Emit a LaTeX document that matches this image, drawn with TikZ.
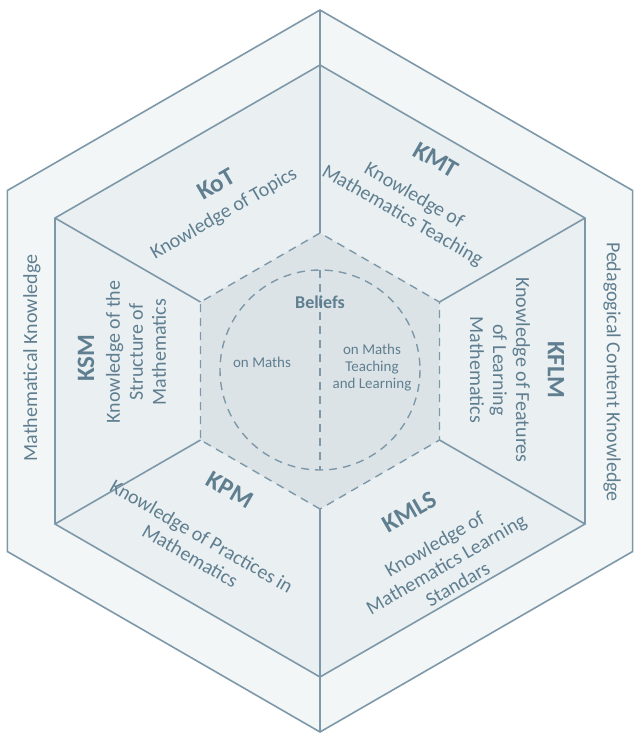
\documentclass[tikz,border=0pt]{standalone}
\usepackage{fontspec}
\setmainfont{Carlito}
\usetikzlibrary{positioning}
\definecolor{edgeblue}{HTML}{7D98A8}
\definecolor{textblue}{HTML}{5F7F90}
\definecolor{ringfill}{HTML}{F3F6F7}
\definecolor{midfill}{HTML}{EAEFF2}
\definecolor{corefill}{HTML}{DCE3E7}
\tikzset{
  hexline/.style={draw=edgeblue, line width=1.6pt},
  dashline/.style={draw=edgeblue, line width=1.4pt, dash pattern=on 8pt off 6pt},
  title/.style={text=textblue, font=\fontsize{25}{27}\selectfont\bfseries},
  body/.style={text=textblue, font=\fontsize{20}{23}\selectfont, align=center},
  belief/.style={text=textblue, font=\fontsize{15}{17}\selectfont, align=center}
}
\begin{document}
\begin{tikzpicture}[x=1pt,y=-1pt]
\useasboundingbox (0,0) rectangle (640,740);
\begin{scope}[shift={(320,371)}]
% rings
\fill[ringfill] (90:361) -- (150:361) -- (210:361) -- (270:361) -- (330:361) -- (30:361) -- cycle;
\fill[midfill] (90:306) -- (150:306) -- (210:306) -- (270:306) -- (330:306) -- (30:306) -- cycle;
\fill[corefill] (90:138) -- (150:138) -- (210:138) -- (270:138) -- (330:138) -- (30:138) -- cycle;
\draw[hexline] (90:361) -- (150:361) -- (210:361) -- (270:361) -- (330:361) -- (30:361) -- cycle;
\draw[hexline] (90:306) -- (150:306) -- (210:306) -- (270:306) -- (330:306) -- (30:306) -- cycle;
\foreach \a in {90,150,210,270,330,30}
  \draw[hexline] (\a:138) -- (\a:306);
\draw[hexline] (90:306) -- (90:361);
\draw[hexline] (270:306) -- (270:361);
\draw[dashline] (90:138) -- (150:138) -- (210:138) -- (270:138) -- (330:138) -- (30:138) -- cycle;
\draw[dashline] (0,-1) circle (100);
\draw[dashline] (0,-101) -- (0,99);
\end{scope}
% labels
\node[title, rotate=30] (kot) at (216,184) {KoT};
\node[body, rotate=30] (kottext) at (224,214) {Knowledge of Topics};
\node[title, rotate=-30] (kmt) at (436,160) {KMT};
\node[body, rotate=-30] (kmttext) at (408,206) {Knowledge of\\Mathematics Teaching};
\node[title, rotate=-90] (kflm) at (556,370) {KFLM};
\node[body, rotate=-90] (kflmtext) at (500,370) {Knowledge of Features\\of Learning\\Mathematics};
\node[title, rotate=90] (ksm) at (86,358) {KSM};
\node[body, rotate=90] (ksmtext) at (136,352) {Knowledge of the\\Structure of\\Mathematics};
\node[title, rotate=-30] (kpm) at (230,490) {KPM};
\node[body, rotate=-30] (kpmtext) at (196,546) {Knowledge of Practices in\\Mathematics};
\node[title, rotate=30] (kmls) at (410,512) {KMLS};
\node[body, rotate=30] (kmlstext) at (446,564) {Knowledge of\\Mathematics Learning\\Standars};
\node[body, rotate=90] (mk) at (32,358) {Mathematical Knowledge};
\node[body, rotate=-90] (pck) at (612,372) {Pedagogical Content Knowledge};
\node[belief, font=\fontsize{18}{20}\selectfont\bfseries] (beliefs) at (320,302) {Beliefs};
\node[belief] (onmaths) at (262,362) {on Maths};
\node[belief] (onteach) at (372,368) {on Maths\\Teaching\\and Learning};
\end{tikzpicture}
\end{document}
